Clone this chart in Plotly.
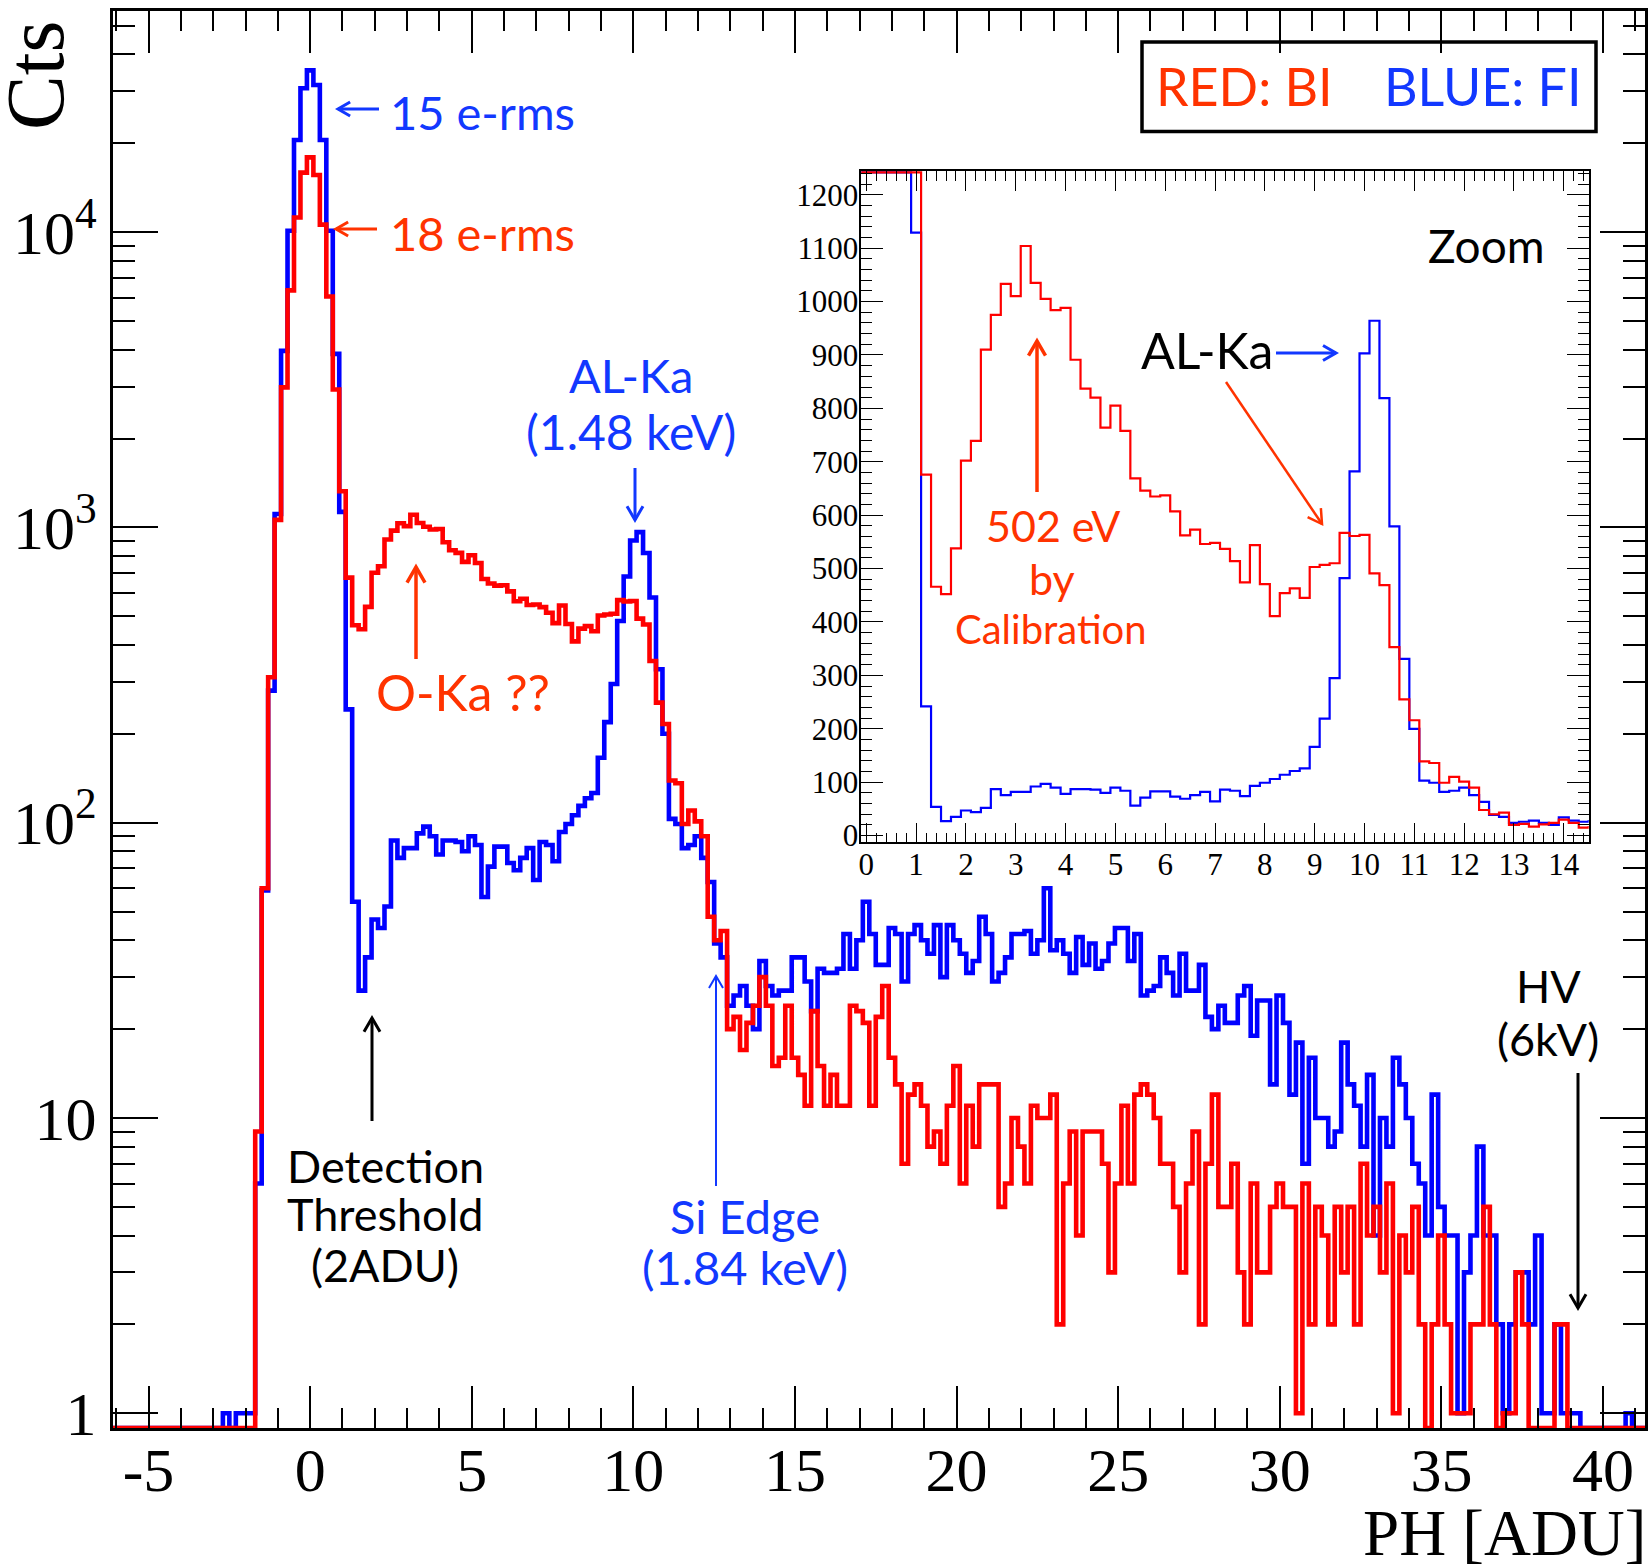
import math
import plotly.graph_objects as go

# ---------------- data (histogram, 0.2 ADU bins, first bin centred at -6.0) ----------------
BIN_LOW_EDGE = -6.1
BIN_WIDTH = 0.2

# BLUE: FI   (bins -6.0 ... 0.8)
blue_pedestal = [0, 0, 0, 0, 0, 0, 0, 0, 0, 0, 0, 0, 0, 0, 0, 0, 0,
                 1, 0, 1, 1, 1,
                 6, 59, 280, 1110, 3960, 10100, 20500, 30700, 35300, 31500, 20500, 10100, 3870]
# bins 1.0 ... 14.4
blue_lowE = [1129, 242, 54, 27, 35, 47, 44, 52, 87, 76,
             82, 82, 92, 97, 90, 78, 87, 87, 86, 80,
             90, 84, 56, 71, 83, 83, 73, 69, 76, 82,
             64, 86, 84, 74, 93, 99, 106, 114, 121, 126,
             166, 219, 295, 482, 682, 903, 964, 819, 579, 331,
             200, 103, 99, 82, 84, 90, 76, 63, 39, 35,
             24, 26, 28, 24, 20, 34, 28, 26]
# bins 14.6 ... 21.0
blue_tail_a = [27, 27, 35, 35, 29, 23, 32, 31, 31, 32,
               42, 32, 40, 54, 42, 33, 33, 44, 42, 29,
               42, 45, 40, 36, 45, 30, 45, 40, 36, 31,
               34, 48, 42]
# bins 21.2 ... 35.4
blue_tail_b = [29, 31, 35, 42, 42, 43, 36, 40, 60, 37,
               40, 36, 31, 41, 33, 39, 32, 34, 39, 44,
               44, 34, 42, 26, 27, 28, 35, 31, 26, 36,
               27, 27, 33, 22, 20, 24, 21, 21, 26, 28,
               19, 25, 25, 13, 26, 21, 12, 18, 7, 16,
               10, 10, 8, 9, 18, 13, 11, 8, 14, 4,
               10, 8, 16, 13, 10, 7, 6, 4, 12, 5,
               4, 4]
# bins 35.6 ... 41.2
blue_tail_c = [1, 3, 4, 8, 4, 4, 2, 1, 2, 3,
               3, 2, 4, 1, 1, 2, 1, 1, 1, 0,
               0, 0, 0, 0, 0, 0, 1, 0, 0]

# RED: BI   (bins -6.0 ... 1.0)
red_pedestal = [0, 0, 0, 0, 0, 0, 0, 0, 0, 0, 0, 0, 0, 0, 0, 0, 0, 0, 0, 0, 0, 0,
                9, 60, 311, 1060, 2980, 6350, 11200, 15900, 17900, 15600, 10600, 6050, 2930, 1325]
# bins 1.2 ... 14.4
red_lowE = [676, 466, 452, 538,
            702, 739, 910, 975, 1033,
            1010, 1104, 1035, 1005, 984,
            988, 891, 837, 820, 764,
            805, 758, 669, 646, 635,
            637, 607, 562, 573, 546,
            548, 537, 514, 474, 544,
            471, 411, 454, 463, 445,
            503, 507, 510, 567, 561,
            563, 491, 469, 353, 255,
            216, 139, 136, 99, 110,
            101, 90, 48, 40, 43,
            20, 22, 17, 21, 24,
            30, 24, 15]
# bins 14.6 ... 21.0
red_tail_a = [16, 24, 16, 14, 11, 23, 15, 11, 14, 11,
              11, 24, 23, 21, 11, 22, 28, 16, 13, 7,
              12, 13, 11, 8, 9, 7, 11, 15, 6, 11,
              8, 13, 13]
# bins 21.2 ... 33.6
red_tail_b = [13, 5, 6, 10, 8, 6, 11, 10, 10, 12,
              2, 6, 9, 4, 9, 9, 9, 7, 3, 6,
              11, 6, 12, 13, 12, 10, 7, 7, 5, 3,
              6, 9, 2, 7, 12, 5, 5, 7, 3, 2,
              6, 3, 3, 5, 6, 5, 5, 1, 6, 2,
              5, 4, 2, 5, 3, 5, 2, 7, 4, 5,
              3, 6, 1]
# bins 33.8 ... 41.2
red_tail_c = [4, 3, 5, 2, 0, 2, 4, 2, 1, 1,
              1, 2, 2, 5, 2, 0, 1, 1, 3, 2,
              0, 0, 0, 0, 2, 2,
              0, 0, 0, 0, 0, 0, 0, 0, 0, 0, 0, 0]

blue_counts = blue_pedestal + blue_lowE + blue_tail_a + blue_tail_b + blue_tail_c
red_counts = red_pedestal + red_lowE + red_tail_a + red_tail_b + red_tail_c

main_x_ticks = [-5, 0, 5, 10, 15, 20, 25, 30, 35, 40]
main_x_ticktext = ["-5", "0", "5", "10", "15", "20", "25", "30", "35", "40"]
main_y_ticks = [1, 10, 100, 1000, 10000]
main_y_ticktext = ["1", "10", "10<sup>2</sup>", "10<sup>3</sup>", "10<sup>4</sup>"]
inset_x_ticks = list(range(0, 15))
inset_y_ticks = list(range(0, 1300, 100))

BLUE = "#0000FF"
RED = "#FF0000"
TXT_BLUE = "#1238FF"
TXT_RED = "#FF3300"

# ---------------- layout geometry ----------------
FW, FH = 1650, 1565
ML, MR, MT, MB = 113, 5, 11, 137
PW, PH = FW - ML - MR, FH - MT - MB
Y_LOG_RANGE = [-0.0498, 4.7487]
Y_FLOOR = 10 ** Y_LOG_RANGE[0]
INSET_Y_RANGE = [-12.7, 1245]


def px(x):
    return (x - ML) / PW


def py(y):
    return (FH - MB - y) / PH


def steps(counts, floor=None, ceil=None):
    xs = [round(BIN_LOW_EDGE + BIN_WIDTH * i, 4) for i in range(len(counts) + 1)]
    ys = []
    for c in counts:
        v = c
        if floor is not None and v <= 0:
            v = floor
        if ceil is not None and v > ceil:
            v = ceil
        ys.append(v)
    ys = ys + [ys[-1]]
    return xs, ys


fig = go.Figure()

bx, by = steps(blue_counts, floor=Y_FLOOR)
rx, ry = steps(red_counts, floor=Y_FLOOR)
fig.add_trace(go.Scatter(x=bx, y=by, mode="lines", line=dict(color=BLUE, width=4.6, shape="hv"),
                         xaxis="x", yaxis="y", showlegend=False, hoverinfo="skip"))
fig.add_trace(go.Scatter(x=rx, y=ry, mode="lines", line=dict(color=RED, width=4.6, shape="hv"),
                         xaxis="x", yaxis="y", showlegend=False, hoverinfo="skip"))

# inset: bins above the frame are drawn along its top edge (as ROOT does)
top_clip = INSET_Y_RANGE[1] - 3
bx2, by2 = steps(blue_counts, ceil=top_clip)
rx2, ry2 = steps(red_counts, ceil=top_clip)
fig.add_trace(go.Scatter(x=bx2, y=by2, mode="lines", line=dict(color=BLUE, width=2.2, shape="hv"),
                         xaxis="x2", yaxis="y2", showlegend=False, hoverinfo="skip"))
fig.add_trace(go.Scatter(x=rx2, y=ry2, mode="lines", line=dict(color=RED, width=2.2, shape="hv"),
                         xaxis="x2", yaxis="y2", showlegend=False, hoverinfo="skip"))

serif = "Liberation Serif"
sans = "Lato"

minor_log = [m * d for d in (1, 10, 100, 1000, 10000) for m in range(2, 10)]

inset_l, inset_r, inset_t, inset_b = 861.3, 1588.7, 170.7, 842.4

fig.update_layout(
    width=FW, height=FH,
    margin=dict(l=ML, r=MR, t=MT, b=MB, pad=0, autoexpand=False),
    paper_bgcolor="white", plot_bgcolor="white",
    xaxis=dict(range=[-6.1, 41.3], domain=[0, 1], anchor="y", automargin=False,
               showline=True, linewidth=3, linecolor="black", mirror="allticks",
               ticks="inside", ticklen=42, tickwidth=2, tickcolor="black",
               tickvals=main_x_ticks, ticktext=main_x_ticktext,
               minor=dict(ticks="inside", ticklen=20, tickwidth=2, tickcolor="black", dtick=1, tick0=0),
               showgrid=False, zeroline=False,
               tickfont=dict(family=serif, size=62, color="black"), ticklabelstandoff=-14),
    yaxis=dict(type="log", range=Y_LOG_RANGE, domain=[0, 1], anchor="x", automargin=False,
               showline=True, linewidth=3, linecolor="black", mirror="allticks",
               ticks="inside", ticklen=45, tickwidth=2, tickcolor="black",
               tickvals=main_y_ticks, ticktext=main_y_ticktext,
               minor=dict(ticks="inside", ticklen=22, tickwidth=2, tickcolor="black",
                          tickvals=minor_log),
               showgrid=False, zeroline=False,
               tickfont=dict(family=serif, size=62, color="black"), ticklabelstandoff=1),
    xaxis2=dict(range=[-0.1, 14.5], domain=[px(inset_l), px(inset_r)], anchor="y2", automargin=False,
                showline=True, linewidth=1.6, linecolor="black", mirror="allticks",
                ticks="inside", ticklen=20, tickwidth=1.3, tickcolor="black",
                tickvals=inset_x_ticks,
                minor=dict(ticks="inside", ticklen=10, tickwidth=1.3, tickcolor="black", dtick=0.2, tick0=0),
                showgrid=False, zeroline=False,
                tickfont=dict(family=serif, size=31, color="black"), ticklabelstandoff=-6),
    yaxis2=dict(range=INSET_Y_RANGE, domain=[py(inset_b), py(inset_t)], anchor="x2", automargin=False,
                showline=True, linewidth=1.6, linecolor="black", mirror="allticks",
                ticks="inside", ticklen=22, tickwidth=1.3, tickcolor="black",
                tickvals=inset_y_ticks,
                minor=dict(ticks="inside", ticklen=11, tickwidth=1.3, tickcolor="black", dtick=20, tick0=0),
                showgrid=False, zeroline=False,
                tickfont=dict(family=serif, size=31, color="black"), ticklabelstandoff=-5),
)

annotations = []
shapes = []


def text(s, x, y, color, size, family=sans, xanchor="center", yanchor="middle", angle=0):
    annotations.append(dict(text=s, x=px(x), y=py(y), xref="paper", yref="paper",
                            xanchor=xanchor, yanchor=yanchor, showarrow=False, textangle=angle,
                            font=dict(family=family, size=size, color=color)))


def arrow(x0, y0, x1, y1, color, width=3, head=16, ang=30):
    shapes.append(dict(type="line", xref="paper", yref="paper",
                       x0=px(x0), y0=py(y0), x1=px(x1), y1=py(y1),
                       line=dict(color=color, width=width)))
    d = math.atan2(y1 - y0, x1 - x0)
    pts = []
    for s in (1, -1):
        a = d + math.pi + s * math.radians(ang)
        pts.append((x1 + head * math.cos(a), y1 + head * math.sin(a)))
    path = "M {} {} L {} {} L {} {}".format(px(pts[0][0]), py(pts[0][1]), px(x1), py(y1),
                                           px(pts[1][0]), py(pts[1][1]))
    shapes.append(dict(type="path", xref="paper", yref="paper", path=path,
                       line=dict(color=color, width=width)))


# axis titles
text("Cts", 36, 76, "black", 82, family=serif, angle=-90)
text("PH [ADU]", 1648, 1533, "black", 65, family=serif, xanchor="right")

# main annotations
text("15 e-rms", 388, 112, TXT_BLUE, 47, xanchor="left")
arrow(379, 109, 338, 109, TXT_BLUE, 3, 14)
text("18 e-rms", 388, 233, TXT_RED, 47, xanchor="left")
arrow(377, 229, 336, 229, TXT_RED, 3, 14)

text("AL-Ka", 631, 375, TXT_BLUE, 47)
text("(1.48 keV)", 631, 432, TXT_BLUE, 48)
arrow(635, 468, 635, 520, TXT_BLUE, 3, 16)

text("O-Ka ??", 463, 692, TXT_RED, 50)
arrow(416, 659, 416, 567, TXT_RED, 3.5, 18)

text("Detection", 385, 1166, "black", 45)
text("Threshold", 385, 1214, "black", 45)
text("(2ADU)", 385, 1265, "black", 45)
arrow(372, 1121, 372, 1018, "black", 3, 16)

text("Si Edge", 745, 1216, TXT_BLUE, 47)
text("(1.84 keV)", 745, 1267, TXT_BLUE, 47)
arrow(716, 1186, 716, 976, TXT_BLUE, 2, 14)

text("HV", 1548, 986, "black", 45)
text("(6kV)", 1548, 1039, "black", 45)
arrow(1578, 1073, 1578, 1308, "black", 3, 16)

# legend box
shapes.append(dict(type="rect", xref="paper", yref="paper",
                   x0=px(1142), y0=py(131.5), x1=px(1596), y1=py(42),
                   line=dict(color="black", width=3.5), fillcolor="white", layer="below"))
text("RED: BI", 1244, 86, TXT_RED, 52)
text("BLUE: FI", 1483, 86, TXT_BLUE, 52)

# inset annotations
text("Zoom", 1486, 246, "black", 46)
text("AL-Ka", 1207, 350, "black", 50)
arrow(1276, 353, 1336, 353, TXT_BLUE, 3, 15)
arrow(1226, 382, 1322, 524, TXT_RED, 2.5, 16)
text("502 eV", 1053, 525, TXT_RED, 43)
text("by", 1052, 578, TXT_RED, 43)
text("Calibration", 1051, 629, TXT_RED, 40)
arrow(1037, 492, 1037, 341, TXT_RED, 3.5, 17)

fig.update_layout(annotations=annotations, shapes=shapes)

fig.write_html("out.html", config={"displayModeBar": False},
               post_script="document.body.style.margin='0';document.body.style.overflow='hidden';")
